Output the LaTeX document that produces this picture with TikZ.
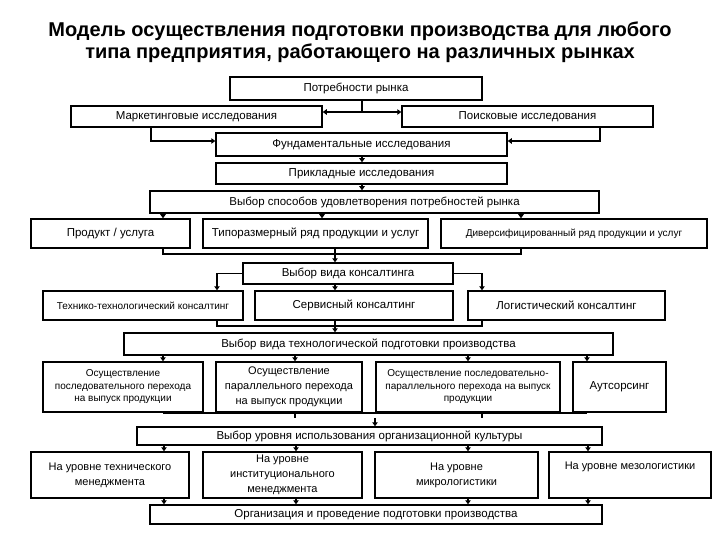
\documentclass[tikz,border=0pt]{standalone}
\usepackage{fontspec}
\setmainfont{Liberation Sans}
\usetikzlibrary{arrows.meta}
\tikzset{box/.style={draw,line width=1.5pt,inner sep=1pt,align=center,
		font=\fontsize{11.5}{13}\selectfont},
	small/.style={font=\fontsize{10}{12.5}\selectfont},
	mid/.style={font=\fontsize{11}{15}\selectfont},
	wire/.style={line width=1.5pt},
	feed/.style={line width=1.5pt,-{Triangle[length=4pt,width=5.5pt]}}}

\begin{document}
\begin{tikzpicture}[x=1pt,y=-1pt]
\useasboundingbox (0,0) rectangle (720,540);
\node[font=\bfseries\fontsize{20}{22}\selectfont,align=center] (title) at (360,42)
  {Модель осуществления подготовки производства для любого\\типа предприятия, работающего на различных рынках};
\node[box,minimum width=252pt,minimum height=23pt] (need) at (356,88.5) {Потребности рынка};
\node[box,minimum width=251pt,minimum height=21pt] (mark) at (196.5,116.5) {Маркетинговые исследования};
\node[box,minimum width=251pt,minimum height=21pt] (search) at (527.5,116.5) {Поисковые исследования};
\node[box,minimum width=291pt,minimum height=23pt] (fund) at (361.5,144.5) {Фундаментальные исследования};
\node[box,minimum width=291pt,minimum height=21pt] (appl) at (361.5,173.5) {Прикладные исследования};
\node[box,minimum width=449pt,minimum height=22pt] (ways) at (374.5,202) {Выбор способов удовлетворения потребностей рынка};
\node[box,minimum width=159pt,minimum height=29pt] (prod) at (110.5,233.5) {Продукт / услуга};
\node[box,minimum width=225pt,minimum height=29pt] (typ) at (315.5,233.5) {Типоразмерный ряд продукции и услуг};
\node[box,small,minimum width=266pt,minimum height=29pt] (div) at (574,233.5) {Диверсифицированный ряд продукции и услуг};
\node[box,minimum width=210pt,minimum height=21pt] (cons) at (348,273.5) {Выбор вида консалтинга};
\node[box,small,minimum width=200pt,minimum height=29pt] (tech) at (143,305.5) {Технико-технологический консалтинг};
\node[box,minimum width=198pt,minimum height=29pt] (serv) at (354,305.5) {Сервисный консалтинг};
\node[box,minimum width=197pt,minimum height=29pt] (log) at (566.5,305.5) {Логистический консалтинг};
\node[box,minimum width=489pt,minimum height=22pt] (tsel) at (368.5,344) {Выбор вида технологической подготовки производства};
\node[box,small,minimum width=160pt,minimum height=50pt] (seq) at (123,387)
  {Осуществление\\последовательного перехода\\на выпуск продукции};
\node[box,mid,minimum width=146pt,minimum height=50pt] (par) at (289,387)
  {Осуществление\\параллельного перехода\\на выпуск продукции};
\node[box,small,minimum width=184pt,minimum height=50pt] (spar) at (468,387)
  {Осуществление последовательно-\\параллельного перехода на выпуск\\продукции};
\node[box,minimum width=93pt,minimum height=50pt] (outs) at (619.5,387) {Аутсорсинг};
\node[box,minimum width=465pt,minimum height=18pt] (csel) at (369.5,436) {Выбор уровня использования организационной культуры};
\node[box,mid,minimum width=158pt,minimum height=46pt] (lev1) at (110,475)
  {На уровне технического\\менеджмента};
\node[box,mid,minimum width=159pt,minimum height=46pt] (lev2) at (282.5,475)
  {На уровне\\институционального\\менеджмента};
\node[box,mid,minimum width=163pt,minimum height=46pt] (lev3) at (456.5,475)
  {На уровне\\микрологистики};
\node[box,mid,minimum width=162pt,minimum height=46pt,text height=14pt,text depth=25pt] (lev4) at (630,475)
  {На уровне мезологистики};
\node[box,minimum width=452pt,minimum height=19pt] (org) at (376,514.5) {Организация и проведение подготовки производства};
\coordinate (fork) at (362,112);
\coordinate (b1) at (335,254);
\coordinate (b2) at (335,326);
\coordinate (b3) at (375,418);
\draw[wire] (need.south -| fork) -- (fork);
\draw[feed] (fork) -- (fork -| mark.east);
\draw[feed] (fork) -- (fork -| search.west);
\draw[feed] (mark.south -| 151,0) |- (fund.west |- 0,141);
\draw[feed] (search.south -| 600,0) |- (fund.east |- 0,141);
\draw[feed] (fund.south -| fork) -- (appl.north -| fork);
\draw[feed] (appl.south -| fork) -- (ways.north -| fork);
\foreach \x/\n in {163/prod,322/typ,521/div}
  \draw[feed] (ways.south -| \x,0) -- (\n.north -| \x,0);
\draw[wire] (prod.south -| 163,0) |- (b1);
\draw[wire] (div.south -| 521,0) |- (b1);
\draw[feed] (typ.south -| b1) -- (cons.north -| b1);
\draw[feed] (cons.west) -| (tech.north -| 217,0);
\draw[feed] (cons.east) -| (log.north -| 482,0);
\draw[feed] (cons.south -| b1) -- (serv.north -| b1);
\draw[wire] (tech.south -| 217,0) |- (b2);
\draw[wire] (log.south -| 482,0) |- (b2);
\draw[feed] (serv.south -| b2) -- (tsel.north -| b2);
\foreach \x/\n in {163/seq,295/par,468/spar,587/outs}
  \draw[feed] (tsel.south -| \x,0) -- (\n.north -| \x,0);
\draw[wire] (seq.south -| 163,0) |- (outs.south -| 587,418) -- (outs.south -| 587,0);
\draw[wire] (par.south -| 295,0) -- (295,418);
\draw[wire] (spar.south -| 482,0) -- (482,418);
\draw[feed] (b3) -- (csel.north -| b3);
\foreach \x/\n in {164/lev1,296/lev2,468/lev3,588/lev4}{
  \draw[feed] (csel.south -| \x,0) -- (\n.north -| \x,0);
  \draw[feed] (\n.south -| \x,0) -- (org.north -| \x,0);}
\end{tikzpicture}
\end{document}
